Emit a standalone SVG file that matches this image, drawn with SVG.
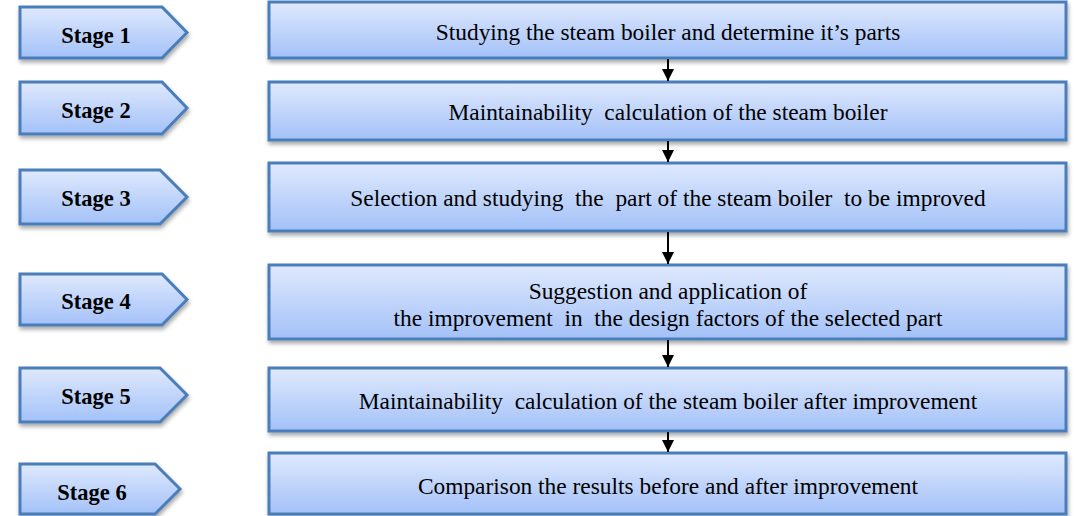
<svg xmlns="http://www.w3.org/2000/svg" width="1076" height="516" viewBox="0 0 1076 516">
<style>
.sh{fill:url(#g);stroke:#4a7ebb;stroke-width:3;filter:url(#sd)}
.t{font-family:"Liberation Serif","Times New Roman",serif;font-size:23.4px;fill:#000;text-anchor:middle;white-space:pre}
.s{font-family:"Liberation Serif","Times New Roman",serif;font-size:22.5px;font-weight:bold;fill:#000;text-anchor:middle}
.c{stroke:#000;stroke-width:2;fill:none;marker-end:url(#ah)}
</style>
<defs>
<linearGradient id="g" x1="0" y1="0" x2="0" y2="1">
<stop offset="0" stop-color="#dfe9fd"/>
<stop offset="1" stop-color="#a3c1f8"/>
</linearGradient>
<filter id="sd" x="-5%" y="-20%" width="110%" height="150%">
<feGaussianBlur in="SourceAlpha" stdDeviation="2"/>
<feOffset dx="1" dy="3" result="b"/>
<feComponentTransfer><feFuncA type="linear" slope="0.35"/></feComponentTransfer>
<feMerge><feMergeNode/><feMergeNode in="SourceGraphic"/></feMerge>
</filter>
<marker id="ah" markerWidth="12" markerHeight="12" viewBox="0 0 12 12" refX="12" refY="6" orient="auto" markerUnits="userSpaceOnUse">
<path d="M0,0 L12,6 L0,12 Z" fill="#000"/>
</marker>
</defs>
<g id="stage1"><path class="sh" d="M20,7 H162 L187,32.5 L162,58 H20 Z"/><text class="s" x="96" y="42.5">Stage 1</text></g>
<g id="stage2"><path class="sh" d="M20,82 H162 L187,108 L162,134 H20 Z"/><text class="s" x="96" y="117.5">Stage 2</text></g>
<g id="stage3"><path class="sh" d="M20,170 H160 L187,197 L160,224 H20 Z"/><text class="s" x="96" y="205.5">Stage 3</text></g>
<g id="stage4"><path class="sh" d="M20,274 H162 L187,299.5 L162,325 H20 Z"/><text class="s" x="96" y="308.5">Stage 4</text></g>
<g id="stage5"><path class="sh" d="M20,368 H160 L187,395 L160,422 H20 Z"/><text class="s" x="96" y="403.5">Stage 5</text></g>
<g id="stage6"><path class="sh" d="M20,464 H155 L180,489 L155,514 H20 Z"/><text class="s" x="92" y="499.5">Stage 6</text></g>
<g id="box1"><rect class="sh" x="269" y="2" width="797" height="56"/><text class="t" x="668" y="39.5">Studying the steam boiler and determine it’s parts</text></g>
<g id="box2"><rect class="sh" x="269" y="82" width="797" height="58"/><text class="t" x="668" y="119.5">Maintainability  calculation of the steam boiler</text></g>
<g id="box3"><rect class="sh" x="269" y="163" width="797" height="68"/><text class="t" x="668" y="205.5">Selection and studying  the  part of the steam boiler  to be improved</text></g>
<g id="box4"><rect class="sh" x="269" y="265" width="797" height="74"/><text class="t" x="668" y="298.5">Suggestion and application of</text><text class="t" x="668" y="325.5">the improvement  in  the design factors of the selected part</text></g>
<g id="box5"><rect class="sh" x="269" y="368" width="797" height="63"/><text class="t" x="668" y="408.5">Maintainability  calculation of the steam boiler after improvement</text></g>
<g id="box6"><rect class="sh" x="269" y="453" width="797" height="61"/><text class="t" x="668" y="493.5">Comparison the results before and after improvement</text></g>
<g id="connectors">
<line class="c" x1="668" y1="59" x2="668" y2="81"/>
<line class="c" x1="668" y1="141" x2="668" y2="162"/>
<line class="c" x1="668" y1="232" x2="668" y2="264"/>
<line class="c" x1="668" y1="340" x2="668" y2="367"/>
<line class="c" x1="668" y1="432" x2="668" y2="452"/>
</g>
</svg>
